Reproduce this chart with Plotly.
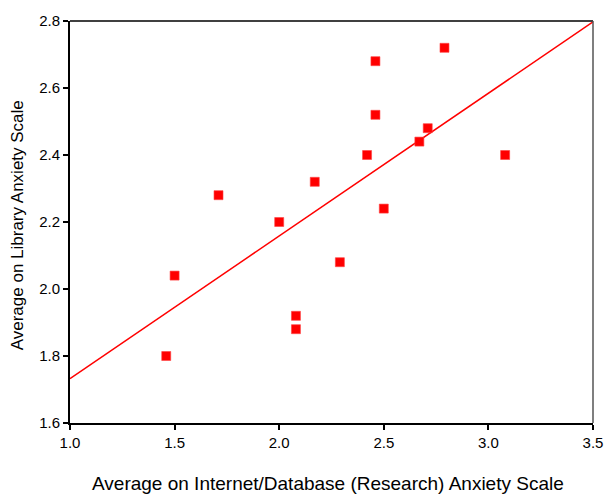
import numpy as np
import plotly.graph_objects as go

# Per-respondent averages on the two anxiety scales
internet_anxiety = [1.71, 2.00, 1.50, 1.46, 2.08, 2.08, 2.29, 2.79,
                    2.46, 2.46, 2.71, 2.67, 2.42, 3.08, 2.17, 2.50]
library_anxiety = [2.28, 2.20, 2.04, 1.80, 1.92, 1.88, 2.08, 2.72,
                   2.68, 2.52, 2.48, 2.44, 2.40, 2.40, 2.32, 2.24]

x_range = [1.0, 3.5]
y_range = [1.6, 2.8]
x_title = "Average on Internet/Database (Research) Anxiety Scale"
y_title = "Average on Library Anxiety Scale"

# Least-squares fit line across the full x range
slope, intercept = np.polyfit(internet_anxiety, library_anxiety, 1)
fit_x = np.array(x_range)
fit_y = intercept + slope * fit_x

font_family = "Liberation Sans, Arial, sans-serif"

fig = go.Figure()
fig.add_trace(go.Scatter(
    x=fit_x, y=fit_y, mode="lines",
    line=dict(color="#ff0000", width=1.5),
    hoverinfo="skip",
))
fig.add_trace(go.Scatter(
    x=internet_anxiety, y=library_anxiety, mode="markers",
    marker=dict(symbol="square", size=9, color="#ff0000",
                line=dict(color="#ff4040", width=0.6)),
))

axis_common = dict(
    showgrid=False, zeroline=False, showline=True, linecolor="black",
    linewidth=2, mirror=False, ticks="outside", ticklen=5, tickwidth=1.5,
    tickcolor="black", tickformat=".1f",
    tickfont=dict(family=font_family, size=15, color="black"),
)

fig.update_layout(
    width=615, height=500,
    margin=dict(l=70, r=22, t=16, b=77),
    paper_bgcolor="white", plot_bgcolor="white",
    showlegend=False,
    xaxis=dict(range=x_range, dtick=0.5, tick0=1.0, **axis_common),
    yaxis=dict(range=y_range, dtick=0.2, tick0=1.6, **axis_common),
    shapes=[
        dict(type="line", xref="paper", yref="paper", x0=0, x1=1, y0=1, y1=1,
             line=dict(color="black", width=1.5)),
        dict(type="line", xref="paper", yref="paper", x0=1, x1=1, y0=0, y1=1,
             line=dict(color="#555555", width=1.5)),
    ],
    annotations=[
        dict(text=x_title, xref="paper", yref="paper", x=0.493, y=-0.15,
             xanchor="center", yanchor="middle", showarrow=False,
             font=dict(family=font_family, size=19, color="black")),
        dict(text=y_title, xref="paper", yref="paper", x=-0.1004, y=0.493,
             xanchor="center", yanchor="middle", textangle=-90, showarrow=False,
             font=dict(family=font_family, size=17, color="black")),
    ],
)

fig.write_html("out.html")
